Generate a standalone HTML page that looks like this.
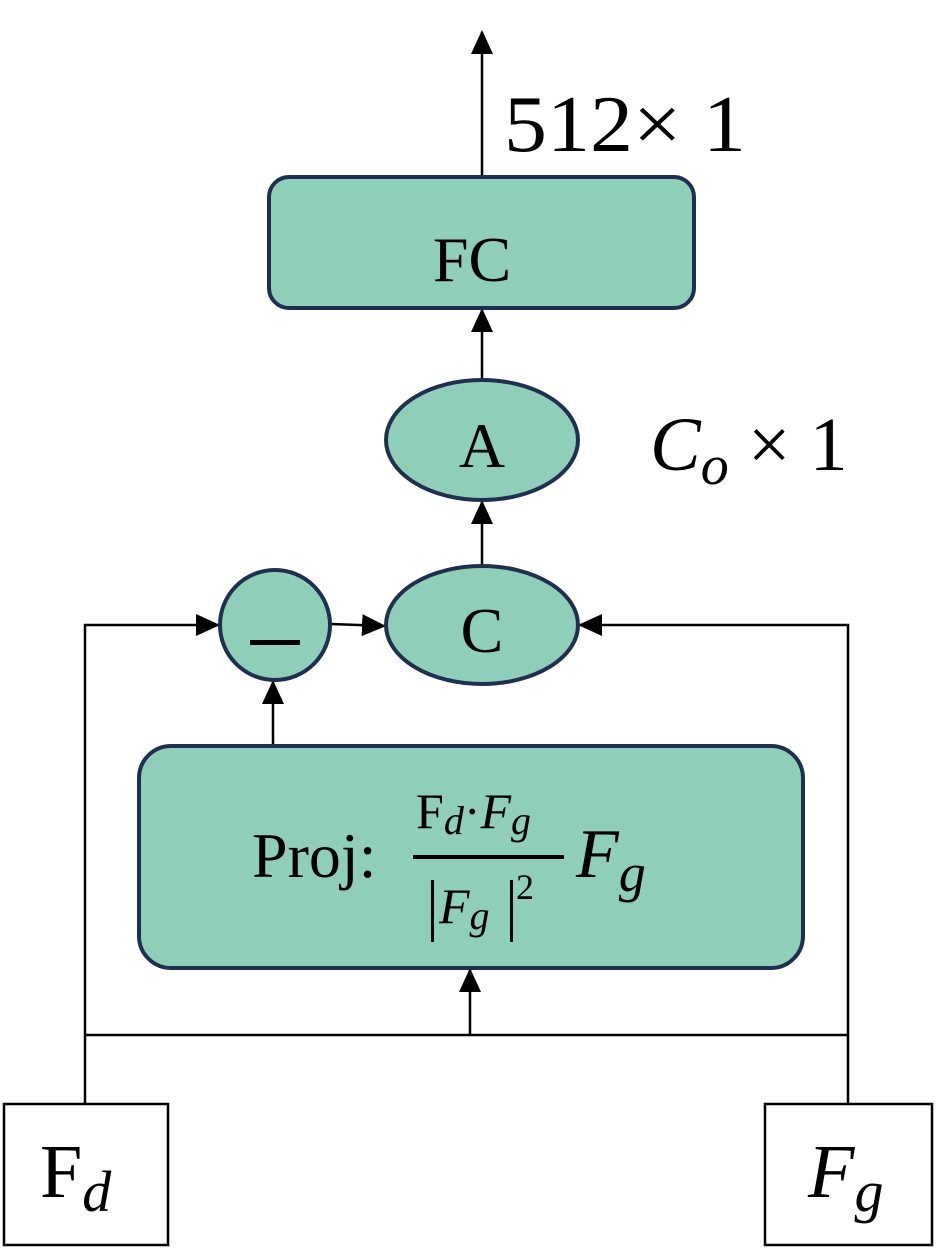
<!DOCTYPE html>
<html><head><meta charset="utf-8"><style>html,body{margin:0;padding:0;background:#fff}svg{display:block}</style></head>
<body>
<svg width="940" height="1248" viewBox="0 0 940 1248" xmlns="http://www.w3.org/2000/svg" font-family="'Liberation Serif', serif">
<defs>
<marker id="ahb" markerWidth="24" markerHeight="24" refX="22" refY="12" orient="auto" markerUnits="userSpaceOnUse" viewBox="0 0 24 24">
<path d="M0,1 L24,12 L0,23 z" fill="#000"/>
</marker>
</defs>
<g stroke="#000" stroke-width="2.5" fill="none">
<line x1="482" y1="176" x2="482" y2="32" marker-end="url(#ahb)"/>
<line x1="482" y1="378" x2="482" y2="310" marker-end="url(#ahb)"/>
<line x1="482" y1="565" x2="482" y2="502" marker-end="url(#ahb)"/>
<polyline points="85,1104 85,625 218,625" marker-end="url(#ahb)"/>
<polyline points="848,1104 848,625 580,625" marker-end="url(#ahb)"/>
<line x1="331" y1="624" x2="384" y2="626" marker-end="url(#ahb)"/>
<line x1="273" y1="745" x2="273" y2="682" marker-end="url(#ahb)"/>
<line x1="85" y1="1035" x2="848" y2="1035"/>
<line x1="470" y1="1035" x2="470" y2="970" marker-end="url(#ahb)"/>
</g>
<g fill="#8fcfba" stroke="#1f2f4f" stroke-width="4">
<rect x="269" y="177" width="425" height="131" rx="20"/>
<ellipse cx="482" cy="440" rx="96" ry="60"/>
<ellipse cx="482" cy="625" rx="96" ry="59"/>
<circle cx="275" cy="625" r="55"/>
<rect x="139" y="746" width="664" height="222" rx="32"/>
</g>
<g fill="#fff" stroke="#000" stroke-width="2.5">
<rect x="4" y="1104" width="164" height="141"/>
<rect x="765" y="1104" width="167" height="141"/>
</g>
<g fill="#000">
<text x="504" y="151" font-size="80" textLength="242" lengthAdjust="spacingAndGlyphs">512× 1</text>
<text x="472" y="281" font-size="64" text-anchor="middle">FC</text>
<text x="482" y="467" font-size="64" text-anchor="middle">A</text>
<text x="482" y="652" font-size="64" text-anchor="middle">C</text>
<rect x="250" y="640" width="50" height="5"/>
<text x="650" y="470" font-size="76" font-style="italic">C<tspan font-size="56" dy="14">o</tspan><tspan font-style="normal" font-size="76" dy="-14"> × 1</tspan></text>
<text x="252" y="877" font-size="64">Proj:</text>
<text x="416" y="828" font-size="50">F<tspan font-style="italic" font-size="40" dy="6">d</tspan><tspan dy="-6">·</tspan><tspan font-style="italic">F</tspan><tspan font-style="italic" font-size="40" dy="6">g</tspan></text>
<rect x="413" y="855" width="151" height="4"/>
<rect x="431" y="880" width="3" height="62"/>
<text x="439" y="923" font-size="50" font-style="italic">F<tspan font-size="40" dy="6">g</tspan></text>
<rect x="510" y="880" width="3" height="62"/>
<text x="516" y="899" font-size="36">2</text>
<text x="576" y="877" font-size="70" font-style="italic">F<tspan font-size="54" dy="14">g</tspan></text>
<text x="40" y="1197" font-size="76">F<tspan font-style="italic" font-size="58" dy="14">d</tspan></text>
<text x="808" y="1197" font-size="76" font-style="italic">F<tspan font-size="58" dy="14">g</tspan></text>
</g>
</svg>
</body></html>
